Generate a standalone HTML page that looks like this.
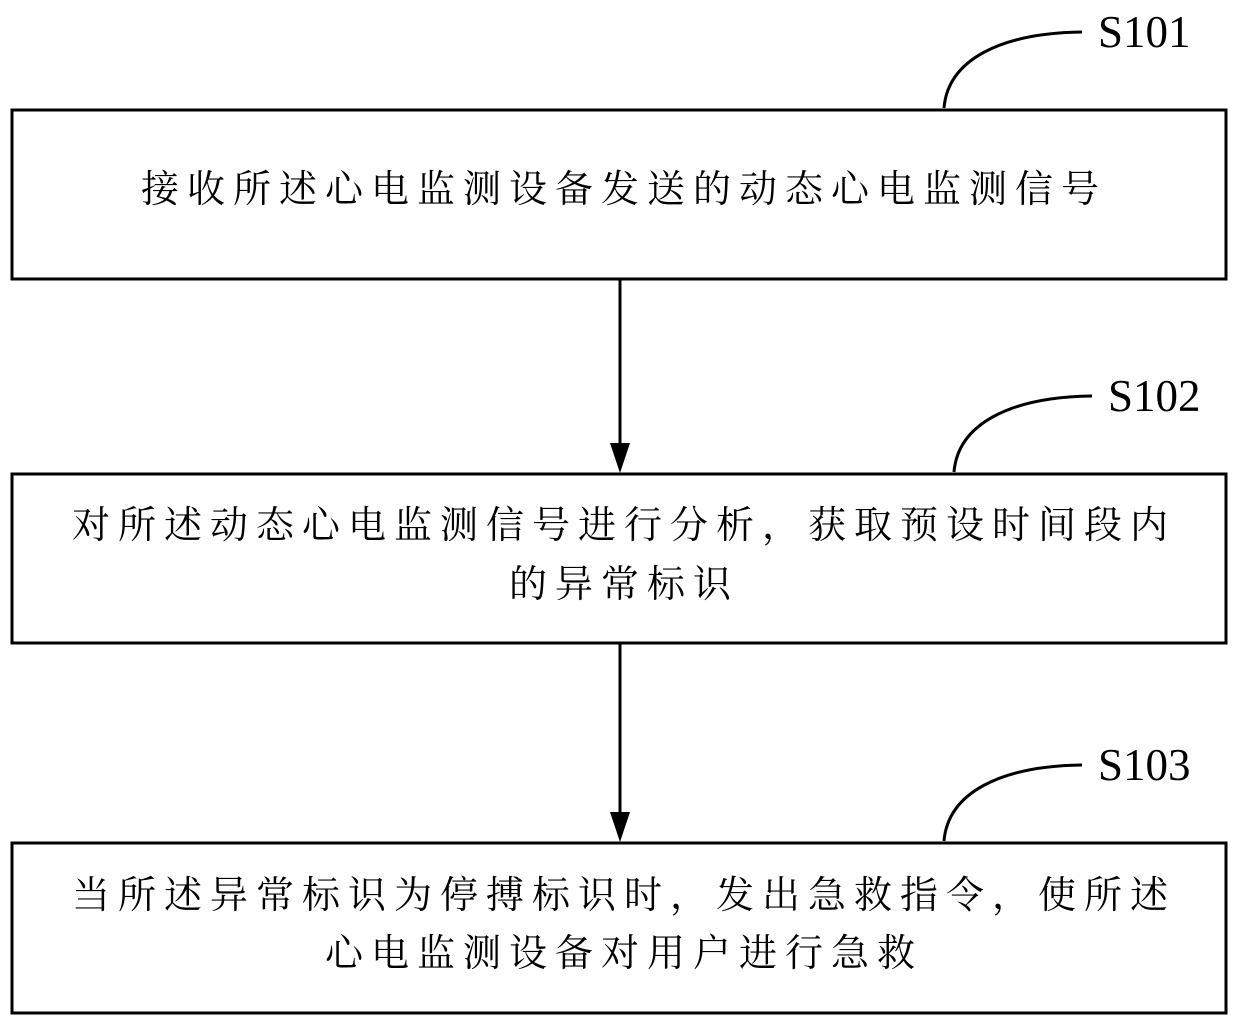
<!DOCTYPE html>
<html><head><meta charset="utf-8"><style>
html,body{margin:0;padding:0;background:#fff;}
body{width:1240px;height:1026px;position:relative;overflow:hidden;}
.t{position:absolute;left:0;width:1240px;text-align:center;font-family:"Liberation Serif","Noto Serif CJK SC",serif;font-size:38px;letter-spacing:8px;color:#000;line-height:42px;white-space:nowrap;}
</style></head><body>
<svg width="1240" height="1026" style="position:absolute;left:0;top:0">
<g fill="none" stroke="#000" stroke-width="3">
<rect x="12" y="110" width="1214" height="169"/>
<rect x="12" y="474" width="1214" height="169"/>
<rect x="12" y="843" width="1214" height="170"/>
<line x1="620" y1="280" x2="620" y2="445"/>
<line x1="620" y1="644" x2="620" y2="814"/>
<path d="M944 108 C948 60 1000 33 1082 32"/>
<path d="M954 472 C958 424 1010 397 1092 396"/>
<path d="M944 841 C948 793 1000 766 1082 765"/>
</g>
<polygon points="610,443 630,443 620,473" fill="#000"/>
<polygon points="610,812 630,812 620,842" fill="#000"/>
<g font-family="Liberation Serif,serif" font-size="45" fill="#000">
<text x="1098" y="47">S101</text>
<text x="1108" y="411">S102</text>
<text x="1098" y="780">S103</text>
</g>
</svg>
<div class="t" style="top:169px;left:4px">接收所述心电监测设备发送的动态心电监测信号</div>
<div class="t" style="top:505px;left:4px">对所述动态心电监测信号进行分析，获取预设时间段内</div>
<div class="t" style="top:564px;left:4px">的异常标识</div>
<div class="t" style="top:875px;left:4px">当所述异常标识为停搏标识时，发出急救指令，使所述</div>
<div class="t" style="top:933px;left:4px">心电监测设备对用户进行急救</div>
</body></html>
